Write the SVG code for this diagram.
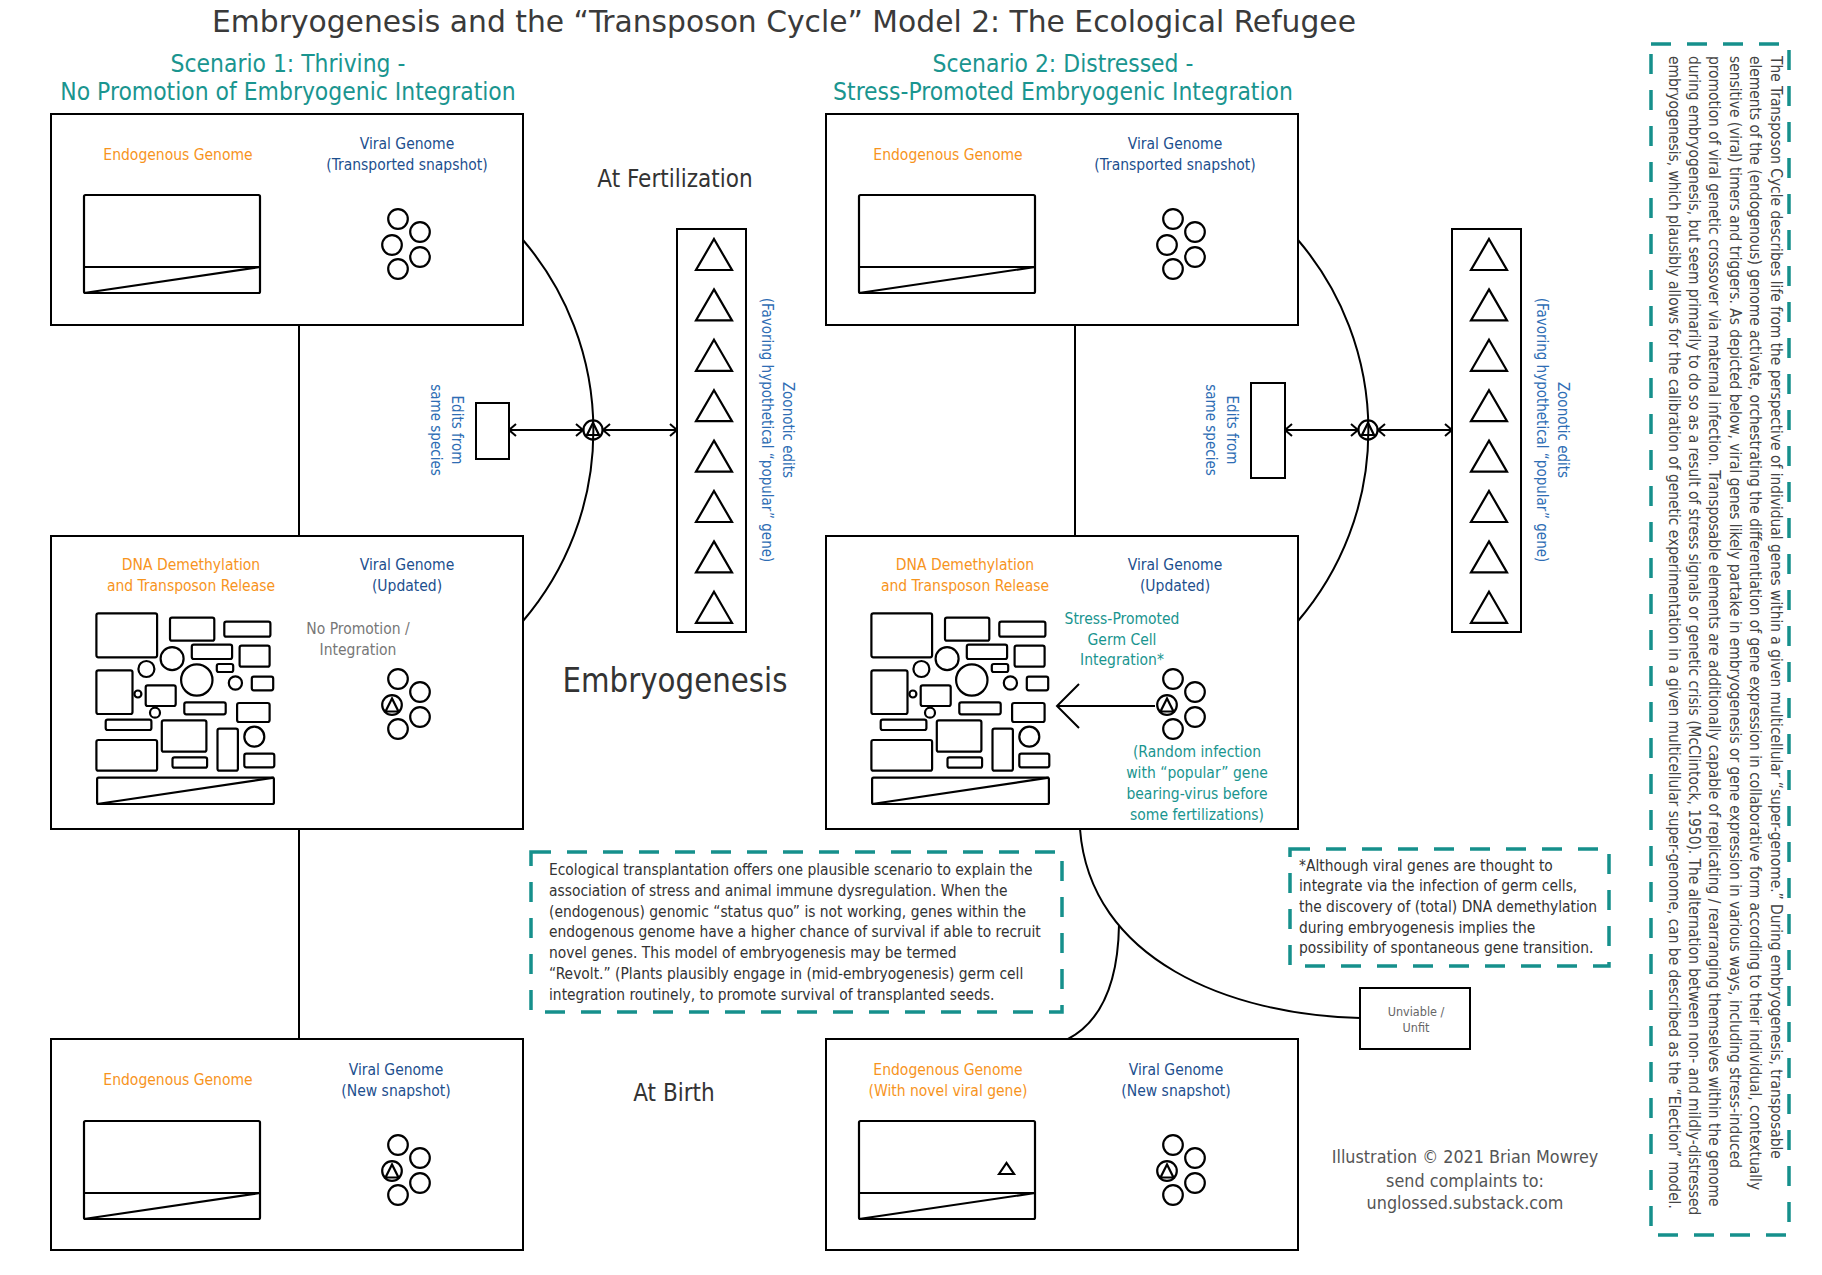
<svg xmlns="http://www.w3.org/2000/svg" xmlns:xlink="http://www.w3.org/1999/xlink" width="1822" height="1275" viewBox="0 0 1822 1275">
<defs>
<style>
text{font-family:"DejaVu Sans Condensed","DejaVu Sans",sans-serif;}
.box{fill:#fff;stroke:#000;stroke-width:2;}
.ln{fill:none;stroke:#000;stroke-width:2;}
.sh{fill:none;stroke:#000;stroke-width:2.2;}
.or{fill:#f7941d;font-size:15.5px;text-anchor:middle;}
.bl{fill:#1d4f8e;font-size:15.5px;text-anchor:middle;}
.rb{fill:#2e6db4;font-size:15px;text-anchor:middle;}
.tl{fill:#1a958f;text-anchor:middle;font-size:15.5px;}
.hd{fill:#1a958f;font-size:24.4px;text-anchor:middle;}
.dash{fill:none;stroke:#16908c;stroke-width:3.5;stroke-dasharray:20 16;}
.gr{fill:#777;font-size:15.5px;text-anchor:middle;}
.dk{fill:#333;}
.note{fill:#333;font-size:15.4px;}
.side{fill:#444;font-size:15.35px;}
</style>
<marker id="ah" viewBox="-10 -8 12 16" markerWidth="12" markerHeight="16" refX="0" refY="0" orient="auto-start-reverse" markerUnits="userSpaceOnUse">
<path d="M-7,-6 L0,0 L-7,6" fill="none" stroke="#000" stroke-width="2"/>
</marker>
<g id="genome">
<rect x="0" y="0" width="176" height="98" rx="1.5" class="sh"/>
<path d="M0,72 H176 M0,98 L176,72" class="sh"/>
</g>
<g id="cl">
<circle cx="0" cy="0" r="9.8" class="sh"/>
<circle cx="22" cy="13" r="9.8" class="sh"/>
<circle cx="-6" cy="26" r="9.8" class="sh"/>
<circle cx="22" cy="38" r="9.8" class="sh"/>
<circle cx="0" cy="50" r="9.8" class="sh"/>
</g>
<g id="clt">
<use xlink:href="#cl"/>
<path d="M-6,19.5 L-12.5,32.5 L0.5,32.5 Z" class="sh"/>
</g>
<g id="tri">
<path d="M0,0 L18,31 L-18,31 Z" class="sh"/>
</g>
<g id="blob">
<rect x="96.4" y="613.3" width="60.7" height="44" rx="2" class="sh"/>
<rect x="170" y="617.7" width="44.3" height="23" rx="2" class="sh"/>
<rect x="224.3" y="621.7" width="46.1" height="15" rx="2" class="sh"/>
<rect x="191.8" y="644.7" width="40.3" height="14.3" rx="2" class="sh"/>
<rect x="239.6" y="645.7" width="30" height="21" rx="2" class="sh"/>
<rect x="216.8" y="664" width="16.4" height="8" rx="2" class="sh"/>
<rect x="251.8" y="676.7" width="21.4" height="13.6" rx="2" class="sh"/>
<rect x="96.4" y="670.3" width="36.1" height="43.7" rx="2" class="sh"/>
<rect x="145.7" y="685.3" width="30" height="20.7" rx="2" class="sh"/>
<rect x="184.3" y="702.3" width="41.4" height="12" rx="2" class="sh"/>
<rect x="237.1" y="703" width="32.5" height="19" rx="2" class="sh"/>
<rect x="105.7" y="719.7" width="45.7" height="10.3" rx="2" class="sh"/>
<rect x="161.8" y="720.3" width="44.6" height="31.4" rx="2" class="sh"/>
<rect x="217.5" y="728.7" width="20.4" height="42" rx="2" class="sh"/>
<rect x="96.4" y="740" width="60.7" height="30.7" rx="2" class="sh"/>
<rect x="172.5" y="757.3" width="34.6" height="10.4" rx="2" class="sh"/>
<rect x="244.3" y="753.7" width="30" height="13.6" rx="2" class="sh"/>
<circle cx="172.1" cy="658.7" r="11.5" class="sh"/>
<circle cx="146.4" cy="669" r="8" class="sh"/>
<circle cx="196.8" cy="680" r="15.7" class="sh"/>
<circle cx="235.4" cy="683" r="6.6" class="sh"/>
<circle cx="137.9" cy="694" r="3.5" class="sh"/>
<circle cx="155" cy="712.7" r="5" class="sh"/>
<circle cx="254.3" cy="736.7" r="10" class="sh"/>
<rect x="97.1" y="777.7" width="176.8" height="26.3" rx="1.5" class="sh"/>
<path d="M97.1,804 L273.9,777.7" class="sh"/>
</g>
<g id="zoo">
<rect x="0" y="0" width="69" height="403" class="box"/>
<use xlink:href="#tri" x="37" y="10"/>
<use xlink:href="#tri" x="37" y="60.4"/>
<use xlink:href="#tri" x="37" y="110.8"/>
<use xlink:href="#tri" x="37" y="161.2"/>
<use xlink:href="#tri" x="37" y="211.6"/>
<use xlink:href="#tri" x="37" y="262"/>
<use xlink:href="#tri" x="37" y="312.4"/>
<use xlink:href="#tri" x="37" y="362.8"/>
</g>
<g id="hub">
<circle cx="0" cy="0" r="9.6" class="sh" fill="#fff"/>
<path d="M0,-7.3 L6,5 L-6,5 Z" class="sh"/>
</g>
</defs>

<rect x="0" y="0" width="1822" height="1275" fill="#fff"/>

<text x="212" y="32" font-size="31" fill="#3a3a3a" textLength="1144" lengthAdjust="spacingAndGlyphs">Embryogenesis and the “Transposon Cycle” Model 2: The Ecological Refugee</text>

<g id="headings">
<text x="288" y="72" class="hd">Scenario 1: Thriving -</text>
<text x="288" y="100" class="hd">No Promotion of Embryogenic Integration</text>
<text x="1063" y="72" class="hd">Scenario 2: Distressed -</text>
<text x="1063" y="100" class="hd">Stress-Promoted Embryogenic Integration</text>
<text x="675" y="187" font-size="24" text-anchor="middle" class="dk">At Fertilization</text>
<text x="675" y="692" font-size="33" text-anchor="middle" class="dk" textLength="225" lengthAdjust="spacingAndGlyphs">Embryogenesis</text>
<text x="674" y="1101" font-size="24" text-anchor="middle" class="dk">At Birth</text>
</g>

<g id="connectors">
<path d="M299,325 V536 M299,829 V1039" class="ln"/>
<path d="M1075,325 V536" class="ln"/>
<path d="M523,240 A293,293 0 0 1 523,621" class="ln"/>
<path d="M1298,240 A293,293 0 0 1 1298,621" class="ln"/>
<path d="M509,430 H583" class="ln" marker-start="url(#ah)" marker-end="url(#ah)"/>
<path d="M603,430 H677" class="ln" marker-start="url(#ah)" marker-end="url(#ah)"/>
<path d="M1285,430 H1358" class="ln" marker-start="url(#ah)" marker-end="url(#ah)"/>
<path d="M1378,430 H1452" class="ln" marker-start="url(#ah)" marker-end="url(#ah)"/>
<path d="M1080,829 C1090,960 1230,1015 1360,1018" class="ln"/>
<path d="M1119,925 C1118,985 1100,1022 1068,1039" class="ln"/>
</g>

<g id="hub1"><use xlink:href="#hub" x="593" y="430"/></g>
<g id="hub2"><use xlink:href="#hub" x="1368" y="430"/></g>

<g id="boxA1">
<rect x="51" y="114" width="472" height="211" class="box"/>
<text x="178" y="160" class="or">Endogenous Genome</text>
<text x="407" y="149" class="bl">Viral Genome</text>
<text x="407" y="170" class="bl">(Transported snapshot)</text>
<use xlink:href="#genome" x="84" y="195"/>
<use xlink:href="#cl" x="398" y="219"/>
</g>

<g id="boxB1">
<rect x="51" y="536" width="472" height="293" class="box"/>
<text x="191" y="570" class="or">DNA Demethylation</text>
<text x="191" y="591" class="or">and Transposon Release</text>
<text x="407" y="570" class="bl">Viral Genome</text>
<text x="407" y="591" class="bl">(Updated)</text>
<text x="358" y="634" class="gr">No Promotion /</text>
<text x="358" y="655" class="gr">Integration</text>
<use xlink:href="#blob"/>
<use xlink:href="#clt" x="398" y="679"/>
</g>

<g id="boxC1">
<rect x="51" y="1039" width="472" height="211" class="box"/>
<text x="178" y="1085" class="or">Endogenous Genome</text>
<text x="396" y="1075" class="bl">Viral Genome</text>
<text x="396" y="1096" class="bl">(New snapshot)</text>
<use xlink:href="#genome" x="84" y="1121"/>
<use xlink:href="#clt" x="398" y="1145"/>
</g>

<g id="boxA2">
<rect x="826" y="114" width="472" height="211" class="box"/>
<text x="948" y="160" class="or">Endogenous Genome</text>
<text x="1175" y="149" class="bl">Viral Genome</text>
<text x="1175" y="170" class="bl">(Transported snapshot)</text>
<use xlink:href="#genome" x="859" y="195"/>
<use xlink:href="#cl" x="1173" y="219"/>
</g>

<g id="boxB2">
<rect x="826" y="536" width="472" height="293" class="box"/>
<text x="965" y="570" class="or">DNA Demethylation</text>
<text x="965" y="591" class="or">and Transposon Release</text>
<text x="1175" y="570" class="bl">Viral Genome</text>
<text x="1175" y="591" class="bl">(Updated)</text>
<text x="1122" y="624" class="tl">Stress-Promoted</text>
<text x="1122" y="645" class="tl">Germ Cell</text>
<text x="1122" y="665" class="tl">Integration*</text>
<use xlink:href="#blob" x="775"/>
<use xlink:href="#clt" x="1173" y="679"/>
<path d="M1155,706 H1057 M1079,684 L1057,706 L1079,728" class="ln"/>
<text x="1197" y="757" class="tl">(Random infection</text>
<text x="1197" y="778" class="tl">with “popular” gene</text>
<text x="1197" y="799" class="tl">bearing-virus before</text>
<text x="1197" y="820" class="tl">some fertilizations)</text>
</g>

<g id="boxC2">
<rect x="826" y="1039" width="472" height="211" class="box"/>
<text x="948" y="1075" class="or">Endogenous Genome</text>
<text x="948" y="1096" class="or">(With novel viral gene)</text>
<text x="1176" y="1075" class="bl">Viral Genome</text>
<text x="1176" y="1096" class="bl">(New snapshot)</text>
<use xlink:href="#genome" x="859" y="1121"/>
<path d="M999,1174 L1006.5,1163 L1014,1174 Z" class="sh"/>
<use xlink:href="#clt" x="1173" y="1145"/>
</g>

<g id="edits1">
<rect x="476" y="403" width="33" height="56" class="box"/>
<text transform="translate(452,430) rotate(90)" class="rb">Edits from</text>
<text transform="translate(431,430) rotate(90)" class="rb">same species</text>
</g>
<g id="zoo1">
<use xlink:href="#zoo" x="677" y="229"/>
<text transform="translate(783,430) rotate(90)" class="rb">Zoonotic edits</text>
<text transform="translate(762,430) rotate(90)" class="rb">(Favoring hypothetical “popular” gene)</text>
</g>
<g id="edits2">
<rect x="1251" y="383" width="34" height="95" class="box"/>
<text transform="translate(1227,430) rotate(90)" class="rb">Edits from</text>
<text transform="translate(1206,430) rotate(90)" class="rb">same species</text>
</g>
<g id="zoo2">
<use xlink:href="#zoo" x="1452" y="229"/>
<text transform="translate(1558,430) rotate(90)" class="rb">Zoonotic edits</text>
<text transform="translate(1537,430) rotate(90)" class="rb">(Favoring hypothetical “popular” gene)</text>
</g>

<g id="unviable">
<rect x="1360" y="988" width="110" height="61" class="box"/>
<text x="1416" y="1016" font-size="12.5" text-anchor="middle" fill="#666">Unviable /</text>
<text x="1416" y="1032" font-size="12.5" text-anchor="middle" fill="#666">Unfit</text>
</g>

<g id="notes">
<rect x="531" y="852" width="531" height="160" class="dash"/>
<text class="note" x="549" y="875">Ecological transplantation offers one plausible scenario to explain the</text>
<text class="note" x="549" y="896">association of stress and animal immune dysregulation. When the</text>
<text class="note" x="549" y="917">(endogenous) genomic “status quo” is not working, genes within the</text>
<text class="note" x="549" y="937">endogenous genome have a higher chance of survival if able to recruit</text>
<text class="note" x="549" y="958">novel genes. This model of embryogenesis may be termed</text>
<text class="note" x="549" y="979">“Revolt.” (Plants plausibly engage in (mid-embryogenesis) germ cell</text>
<text class="note" x="549" y="1000">integration routinely, to promote survival of transplanted seeds.</text>
</g>

<g id="footnote">
<rect x="1290" y="849" width="319" height="117" class="dash"/>
<text class="note" x="1299" y="871">*Although viral genes are thought to</text>
<text class="note" x="1299" y="891">integrate via the infection of germ cells,</text>
<text class="note" x="1299" y="912">the discovery of (total) DNA demethylation</text>
<text class="note" x="1299" y="933">during embryogenesis implies the</text>
<text class="note" x="1299" y="953">possibility of spontaneous gene transition.</text>
</g>

<g id="credit">
<text x="1465" y="1163" font-size="17.8" text-anchor="middle" fill="#555">Illustration © 2021 Brian Mowrey</text>
<text x="1465" y="1187" font-size="17.8" text-anchor="middle" fill="#555">send complaints to:</text>
<text x="1465" y="1209" font-size="17.8" text-anchor="middle" fill="#555">unglossed.substack.com</text>
</g>

<g id="sidenote">
<rect x="1651" y="44" width="138" height="1191" class="dash"/>
<text class="side" transform="translate(1770.5,56) rotate(90)">The Transposon Cycle describes life from the perspective of individual genes within a given multicellular “super-genome.” During embryogenesis, transposable</text>
<text class="side" transform="translate(1750,56) rotate(90)">elements of the (endogenous) genome activate, orchestrating the differentiation of gene expression in collaborative form according to their individual, contextually</text>
<text class="side" transform="translate(1729.5,56) rotate(90)">sensitive (viral) timers and triggers. As depicted below, viral genes likely partake in embryogenesis or gene expression in various ways, including stress-induced</text>
<text class="side" transform="translate(1709,56) rotate(90)">promotion of viral genetic crossover via maternal infection. Transposable elements are additionally capable of replicating / rearranging themselves within the genome</text>
<text class="side" transform="translate(1689,56) rotate(90)">during embryogenesis, but seem primarily to do so as a result of stress signals or genetic crisis (McClintock, 1950). The alternation between non- and mildly-distressed</text>
<text class="side" transform="translate(1668.5,56) rotate(90)">embryogenesis, which plausibly allows for the calibration of genetic experimentation in a given multicellular super-genome, can be described as the “Election” model.</text>
</g>
</svg>
